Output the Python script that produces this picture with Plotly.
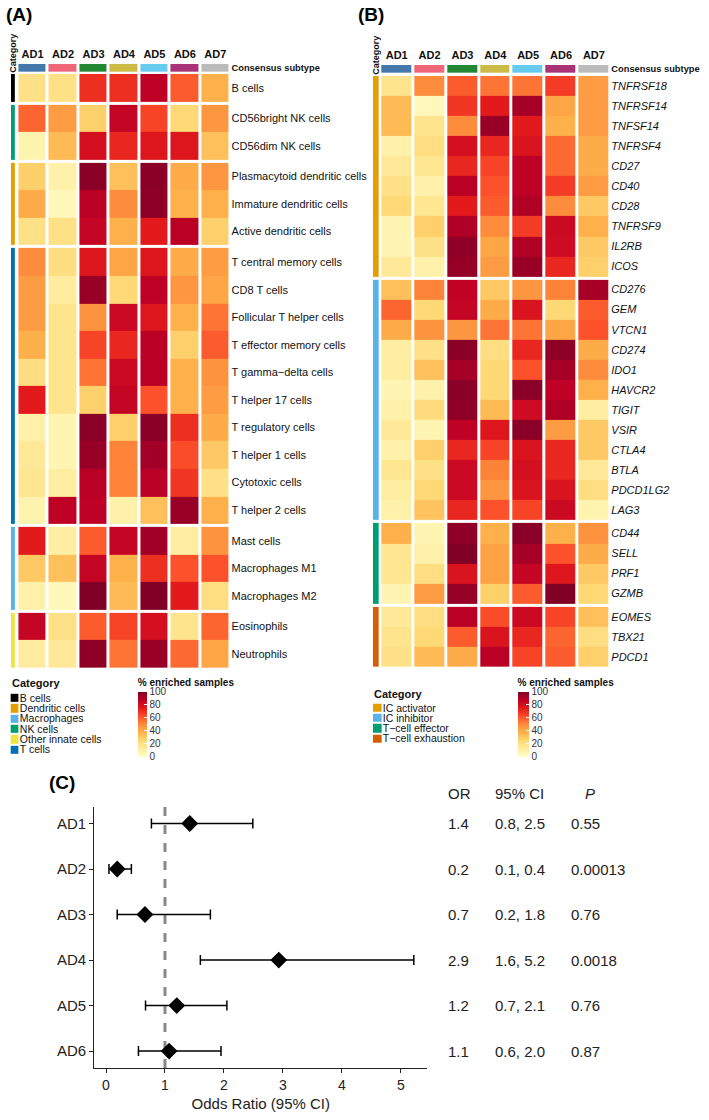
import plotly.graph_objects as go
import math

W, H = 709, 1120
FONT = "Liberation Sans, Arial, sans-serif"
TXT = "#111111"

# ---------------- shared ----------------
SUBTYPES = ["AD1", "AD2", "AD3", "AD4", "AD5", "AD6", "AD7"]
SUBTYPE_COLORS = ["#4477AA", "#EE6677", "#228833", "#CCBB44", "#66CCEE", "#AA3377", "#BBBBBB"]
YLORRD = ["#ffffcc", "#ffeda0", "#fed976", "#feb24c", "#fd8d3c", "#fc4e2a", "#e31a1c", "#bd0026", "#800026"]
CBAR_TICKS = [0, 20, 40, 60, 80, 100]

# ---------------- panel A: immune cell types ----------------
A_ROWS = ["B cells", "CD56bright NK cells", "CD56dim NK cells",
          "Plasmacytoid dendritic cells", "Immature dendritic cells", "Active dendritic cells",
          "T central memory cells", "CD8 T cells", "Follicular T helper cells",
          "T effector memory cells", "T gamma\u2212delta cells", "T helper 17 cells",
          "T regulatory cells", "T helper 1 cells", "Cytotoxic cells", "T helper 2 cells",
          "Mast cells", "Macrophages M1", "Macrophages M2",
          "Eosinophils", "Neutrophils"]
A_ROW_CATEGORY = ["B cells", "NK cells", "NK cells",
                  "Dendritic cells", "Dendritic cells", "Dendritic cells",
                  "T cells", "T cells", "T cells", "T cells", "T cells",
                  "T cells", "T cells", "T cells", "T cells", "T cells",
                  "Macrophages", "Macrophages", "Macrophages",
                  "Other innate cells", "Other innate cells"]
A_PCT = [
    [20, 20, 70, 70, 87, 60, 38],
    [58, 45, 28, 85, 65, 25, 47],
    [8, 35, 80, 72, 77, 77, 33],
    [28, 10, 98, 33, 98, 40, 47],
    [40, 5, 88, 50, 97, 38, 38],
    [20, 20, 85, 38, 75, 88, 28],
    [50, 22, 77, 42, 77, 40, 45],
    [45, 13, 95, 25, 87, 47, 42],
    [45, 18, 48, 83, 77, 38, 55],
    [38, 18, 65, 72, 88, 28, 60],
    [22, 18, 55, 83, 88, 38, 48],
    [75, 18, 28, 85, 62, 38, 45],
    [10, 7, 98, 28, 98, 70, 40],
    [15, 7, 95, 52, 93, 63, 30],
    [17, 12, 88, 52, 88, 68, 20],
    [8, 87, 87, 10, 33, 95, 38],
    [75, 12, 60, 85, 93, 12, 48],
    [30, 33, 85, 38, 70, 62, 62],
    [10, 5, 100, 35, 100, 75, 22],
    [85, 20, 60, 65, 80, 18, 58],
    [13, 15, 97, 55, 95, 57, 42],
]
A_LEGEND = ["B cells", "Dendritic cells", "Macrophages", "NK cells", "Other innate cells", "T cells"]
A_LEGEND_COLORS = ["#000000", "#E69F00", "#56B4E9", "#009E73", "#F0E442", "#0072B2"]

# ---------------- panel B: immune checkpoint / T-cell genes ----------------
B_ROWS = ["TNFRSF18", "TNFRSF14", "TNFSF14", "TNFRSF4", "CD27", "CD40", "CD28", "TNFRSF9",
          "IL2RB", "ICOS",
          "CD276", "GEM", "VTCN1", "CD274", "IDO1", "HAVCR2", "TIGIT", "VSIR", "CTLA4",
          "BTLA", "PDCD1LG2", "LAG3",
          "CD44", "SELL", "PRF1", "GZMB",
          "EOMES", "TBX21", "PDCD1"]
B_ROW_CATEGORY = ["IC activator"] * 10 + ["IC inhibitor"] * 12 + \
                 ["T\u2212cell effector"] * 4 + ["T\u2212cell exhaustion"] * 3
B_PCT = [
    [18, 50, 60, 55, 55, 67, 45],
    [35, 5, 68, 75, 92, 42, 45],
    [35, 18, 50, 95, 75, 38, 45],
    [10, 22, 80, 72, 78, 57, 40],
    [15, 17, 72, 65, 87, 57, 40],
    [20, 10, 88, 62, 87, 67, 45],
    [25, 17, 75, 60, 90, 50, 30],
    [7, 28, 90, 50, 67, 83, 38],
    [7, 20, 97, 42, 90, 82, 30],
    [15, 10, 96, 45, 95, 72, 28],
    [33, 52, 86, 30, 47, 52, 92],
    [58, 25, 85, 40, 78, 25, 60],
    [40, 48, 47, 55, 55, 42, 62],
    [12, 20, 98, 22, 72, 97, 40],
    [12, 33, 92, 25, 62, 92, 50],
    [7, 10, 98, 25, 98, 87, 38],
    [10, 23, 97, 35, 82, 90, 12],
    [15, 7, 87, 77, 98, 45, 30],
    [10, 28, 72, 65, 78, 72, 30],
    [17, 20, 83, 52, 80, 72, 15],
    [12, 25, 83, 47, 78, 78, 22],
    [10, 32, 72, 62, 65, 83, 8],
    [38, 7, 97, 38, 98, 38, 48],
    [17, 10, 100, 43, 92, 62, 40],
    [17, 22, 78, 43, 85, 77, 30],
    [7, 45, 96, 28, 60, 100, 25],
    [15, 22, 88, 63, 83, 65, 33],
    [18, 25, 60, 78, 72, 58, 22],
    [20, 35, 40, 88, 65, 60, 28],
]
B_LEGEND = ["IC activator", "IC inhibitor", "T\u2212cell effector", "T\u2212cell exhaustion"]
B_LEGEND_COLORS = ["#E69F00", "#56B4E9", "#009E73", "#D55E00"]

# ---------------- panel C: forest plot ----------------
C_SUBTYPES = ["AD1", "AD2", "AD3", "AD4", "AD5", "AD6"]
C_OR = [1.42, 0.19, 0.66, 2.93, 1.20, 1.07]
C_LO = [0.77, 0.05, 0.19, 1.60, 0.67, 0.55]
C_HI = [2.49, 0.43, 1.77, 5.22, 2.05, 1.95]
C_OR_TEXT = ["1.4", "0.2", "0.7", "2.9", "1.2", "1.1"]
C_CI_TEXT = ["0.8, 2.5", "0.1, 0.4", "0.2, 1.8", "1.6, 5.2", "0.7, 2.1", "0.6, 2.0"]
C_P_TEXT = ["0.55", "0.00013", "0.76", "0.0018", "0.76", "0.87"]
REF_OR = 1


# ---------------- helpers ----------------
def X(px):
    return px / W


def Y(py):
    return 1 - py / H


def discrete_scale(colors):
    n = len(colors)
    cs = []
    for i, c in enumerate(colors):
        cs.append([i / n, c])
        cs.append([(i + 1) / n, c])
    return cs


def seq_scale(colors):
    n = len(colors) - 1
    return [[i / n, c] for i, c in enumerate(colors)]


def build_rows(row_cats, pct, legend, gap):
    """Return y-edges, z rows (with NaN gap rows), category codes and label centres."""
    edges = [0.0]
    z, codes, centres = [], [], []
    pos = 0.0
    prev = None
    nan_row = [math.nan] * len(pct[0])
    for cat, vals in zip(row_cats, pct):
        if prev is not None and cat != prev:
            pos += gap
            edges.append(pos)
            z.append(nan_row)
            codes.append([math.nan])
        centres.append(pos + 0.5)
        pos += 1
        edges.append(pos)
        z.append(vals)
        codes.append([legend.index(cat)])
        prev = cat
    return edges, z, codes, centres, pos


fig = go.Figure()
layout_axes = {}
annotations = []


def add_heatmap_panel(idx0, rows, row_cats, pct, legend, leg_colors, gap,
                      x_left, x_right, y_top, y_bot, sub_top, sub_bot,
                      cat_l, cat_r, key_l, key_r, key_top, key_bot,
                      cb_x, cb_top, cb_thick, italic):
    edges, z, codes, centres, total = build_rows(row_cats, pct, legend, gap)
    a, b, c, d = idx0, idx0 + 1, idx0 + 2, idx0 + 3
    # main heatmap
    fig.add_trace(go.Heatmap(
        x=SUBTYPES, y=edges, z=z, zmin=0, zmax=100,
        colorscale=seq_scale(YLORRD), xgap=3, ygap=0, hoverinfo="skip",
        xaxis=f"x{a}", yaxis=f"y{a}",
        colorbar=dict(
            x=X(cb_x), xanchor="left", xpad=0, y=Y(cb_top), yanchor="top", ypad=0,
            len=81, lenmode="pixels", thickness=cb_thick, thicknessmode="pixels",
            outlinewidth=0, tickvals=CBAR_TICKS, ticks="inside", ticklen=3,
            tickcolor="white", tickfont=dict(size=10, family=FONT, color="#333"),
            title=dict(text="<b>% enriched samples</b>", side="top",
                       font=dict(size=10, family=FONT, color=TXT)),
        ),
    ))
    labels = [f"<i>{r}</i>" if italic else r for r in rows]
    layout_axes[f"xaxis{a}"] = dict(domain=[X(x_left), X(x_right)], anchor=f"y{a}",
                                    showticklabels=False, showgrid=False, zeroline=False)
    layout_axes[f"yaxis{a}"] = dict(domain=[Y(y_bot), Y(y_top)], anchor=f"x{a}",
                                    range=[total, 0], side="right", tickvals=centres,
                                    ticktext=labels, ticks="", showgrid=False, zeroline=False,
                                    tickfont=dict(size=11, family=FONT, color=TXT))
    # subtype bar
    fig.add_trace(go.Heatmap(
        x=SUBTYPES, y=["Consensus subtype"], z=[list(range(len(SUBTYPES)))],
        zmin=-0.5, zmax=len(SUBTYPES) - 0.5, colorscale=discrete_scale(SUBTYPE_COLORS),
        showscale=False, xgap=3, hoverinfo="skip", xaxis=f"x{b}", yaxis=f"y{b}"))
    layout_axes[f"xaxis{b}"] = dict(domain=[X(x_left), X(x_right)], anchor=f"y{b}", side="top",
                                    ticks="", showgrid=False, zeroline=False, ticklabelstandoff=3,
                                    tickfont=dict(size=11, family=FONT, color=TXT, weight="bold"))
    layout_axes[f"yaxis{b}"] = dict(domain=[Y(sub_bot), Y(sub_top)], anchor=f"x{b}", side="right",
                                    ticks="", showgrid=False, zeroline=False,
                                    tickfont=dict(size=9.3, family=FONT, color=TXT, weight="bold"))
    # category bar
    fig.add_trace(go.Heatmap(
        x=["Category"], y=edges, z=codes, zmin=-0.5, zmax=len(legend) - 0.5,
        colorscale=discrete_scale(leg_colors), showscale=False, hoverinfo="skip",
        xaxis=f"x{c}", yaxis=f"y{c}"))
    layout_axes[f"xaxis{c}"] = dict(domain=[X(cat_l), X(cat_r)], anchor=f"y{c}", side="top",
                                    tickangle=-90, ticks="", showgrid=False, zeroline=False,
                                    tickfont=dict(size=9, family=FONT, color=TXT, weight="bold"))
    layout_axes[f"yaxis{c}"] = dict(domain=[Y(y_bot), Y(y_top)], anchor=f"x{c}", range=[total, 0],
                                    showticklabels=False, ticks="", showgrid=False, zeroline=False)
    # legend keys
    fig.add_trace(go.Heatmap(
        x=["key"], y=legend, z=[[i] for i in range(len(legend))],
        zmin=-0.5, zmax=len(legend) - 0.5, colorscale=discrete_scale(leg_colors),
        showscale=False, ygap=2, hoverinfo="skip", xaxis=f"x{d}", yaxis=f"y{d}"))
    layout_axes[f"xaxis{d}"] = dict(domain=[X(key_l), X(key_r)], anchor=f"y{d}",
                                    showticklabels=False, ticks="", showgrid=False, zeroline=False)
    layout_axes[f"yaxis{d}"] = dict(domain=[Y(key_bot), Y(key_top)], anchor=f"x{d}",
                                    autorange="reversed", side="right", ticks="",
                                    tickmode="array", tickvals=list(range(len(legend))),
                                    ticktext=legend,
                                    showgrid=False, zeroline=False,
                                    tickfont=dict(size=10.5, family=FONT, color=TXT))


add_heatmap_panel(1, A_ROWS, A_ROW_CATEGORY, A_PCT, A_LEGEND, A_LEGEND_COLORS, 0.11,
                  14.5, 229.5, 73, 668, 63, 71, 8, 12, 7.5, 16, 693, 755,
                  136, 676, 9, False)
add_heatmap_panel(5, B_ROWS, B_ROW_CATEGORY, B_PCT, B_LEGEND, B_LEGEND_COLORS, 0.15,
                  380.5, 612.5, 75, 667, 64, 72, 373, 379, 373, 382, 703, 744,
                  519, 676, 11, True)

# ---------------- panel C ----------------
fig.add_trace(go.Scatter(
    x=C_OR, y=list(range(len(C_SUBTYPES))), mode="markers",
    marker=dict(symbol="diamond", size=13, color="black"),
    error_x=dict(type="data", symmetric=False,
                 array=[h - o for h, o in zip(C_HI, C_OR)],
                 arrayminus=[o - l for o, l in zip(C_OR, C_LO)],
                 color="black", thickness=1.5, width=5),
    hoverinfo="skip", xaxis="x9", yaxis="y9", showlegend=False))
layout_axes["xaxis9"] = dict(domain=[X(92), X(428)], anchor="y9", range=[-0.2, 5.45],
                             tickvals=[0, 1, 2, 3, 4, 5], ticks="outside", ticklen=4,
                             tickcolor="#222", showline=True, linecolor="#222", linewidth=1.3,
                             showgrid=False, zeroline=False,
                             tickfont=dict(size=14, family=FONT, color="#222"),
                             title=dict(text="Odds Ratio (95% CI)", standoff=6,
                                        font=dict(size=15, family=FONT, color="#222")))
layout_axes["yaxis9"] = dict(domain=[Y(1069), Y(807)], anchor="x9", range=[5.373, -0.373],
                             tickvals=list(range(len(C_SUBTYPES))), ticktext=C_SUBTYPES,
                             ticks="outside", ticklen=4, tickcolor="#222",
                             showline=True, linecolor="#222", linewidth=1.3,
                             showgrid=False, zeroline=False,
                             tickfont=dict(size=15, family=FONT, color="#222"))

shapes = [dict(type="line", xref="x9", yref="y9 domain", x0=REF_OR, x1=REF_OR, y0=0, y1=1,
               line=dict(color="#888888", width=3, dash="dash"), layer="below")]

# table
for col_x, head, texts, italic in [(447, "OR", C_OR_TEXT, False),
                                   (494, "95% CI", C_CI_TEXT, False),
                                   (571, "P", C_P_TEXT, True)]:
    annotations.append(dict(x=X(col_x + (14 if italic else 0)), y=Y(794), xref="paper", yref="paper",
                            text=f"<i>{head}</i>" if italic else head, showarrow=False,
                            xanchor="left", yanchor="middle",
                            font=dict(size=15, family=FONT, color="#222")))
    for i, t in enumerate(texts):
        annotations.append(dict(x=X(col_x), y=i, xref="paper", yref="y9", text=t,
                                showarrow=False, xanchor="left", yanchor="middle",
                                font=dict(size=15, family=FONT, color="#222")))

# panel letters and legend titles
for txt, px, py in [("(A)", 1, 14), ("(B)", 356, 14), ("(C)", 44, 783)]:
    annotations.append(dict(x=X(px), y=Y(py), xref="paper", yref="paper", text=f"<b>{txt}</b>",
                            showarrow=False, xanchor="left", yanchor="middle",
                            font=dict(size=19, family=FONT, color="black")))
for px, py in [(7, 683), (372, 694)]:
    annotations.append(dict(x=X(px), y=Y(py), xref="paper", yref="paper", text="<b>Category</b>",
                            showarrow=False, xanchor="left", yanchor="middle",
                            font=dict(size=11, family=FONT, color=TXT)))

fig.update_layout(
    width=W, height=H, margin=dict(l=0, r=0, t=0, b=0),
    paper_bgcolor="white", plot_bgcolor="white", showlegend=False,
    font=dict(family=FONT, color=TXT),
    annotations=annotations, shapes=shapes, **layout_axes)

fig.write_html("out.html", config={"displayModeBar": False},
               post_script="document.body.style.margin='0';document.body.style.overflow='hidden';")
